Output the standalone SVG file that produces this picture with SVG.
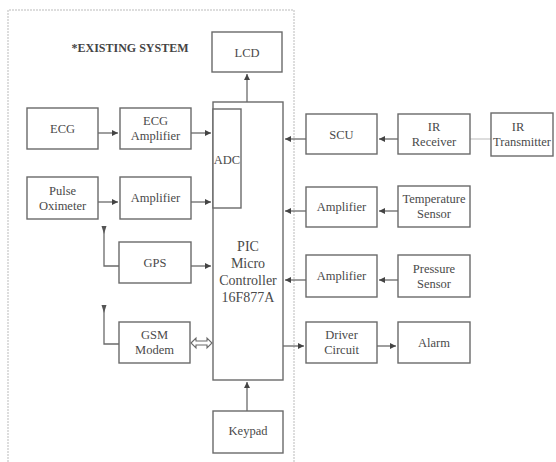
<svg xmlns="http://www.w3.org/2000/svg" width="556" height="462" viewBox="0 0 556 462">
<style>
.box{fill:#fff;stroke:#6a6a6a;stroke-width:1.4}
.t{font-family:"Liberation Serif","Times New Roman",serif;font-size:12.5px;fill:#4a4a4a;text-anchor:middle}
.big{font-size:14px}
.c{stroke:#6a6a6a;stroke-width:1.3;fill:none}
</style>
<defs>
<marker id="ah" markerWidth="8" markerHeight="8" refX="6" refY="3" orient="auto" markerUnits="userSpaceOnUse">
<path d="M0,0 L6,3 L0,6 z" fill="#444"/>
</marker>
</defs>
<rect width="556" height="462" fill="#fff"/>
<g id="border">
<path d="M8,462 V10 H294 V462" fill="none" stroke="#bbb" stroke-width="1" stroke-dasharray="2,1"/>
</g>
<text x="130" y="52" style="font-family:'Liberation Serif','Times New Roman',serif;font-size:12px;font-weight:bold;fill:#444;text-anchor:middle">*EXISTING SYSTEM</text>
<g id="connectors">
<line class="c" x1="247" y1="102" x2="247" y2="74" marker-end="url(#ah)"/>
<line class="c" x1="98" y1="133" x2="118" y2="133" marker-end="url(#ah)"/>
<line class="c" x1="191" y1="133" x2="211" y2="133" marker-end="url(#ah)"/>
<line class="c" x1="98" y1="202" x2="118" y2="202" marker-end="url(#ah)"/>
<line class="c" x1="191" y1="202" x2="211" y2="202" marker-end="url(#ah)"/>
<line class="c" x1="191" y1="266" x2="211" y2="266" marker-end="url(#ah)"/>
<path class="c" d="M104,229 V266 H119"/>
<path d="M101.5,226 L106.5,226 L104,234 z" fill="#555"/>
<path class="c" d="M104,308 V344 H119"/>
<path d="M101.5,305 L106.5,305 L104,313 z" fill="#555"/>
<path d="M191,343 L196,338 V341 H207 V338 L212,343 L207,348 V345 H196 V348 z" fill="#fff" stroke="#6a6a6a" stroke-width="1.1"/>
<line class="c" x1="247" y1="411" x2="247" y2="382" marker-end="url(#ah)"/>
<line class="c" x1="306" y1="139" x2="285" y2="139" marker-end="url(#ah)"/>
<line class="c" x1="398" y1="139" x2="379" y2="139" marker-end="url(#ah)"/>
<line x1="470" y1="139" x2="491" y2="139" stroke="#bbb" stroke-width="1"/>
<line class="c" x1="306" y1="211" x2="285" y2="211" marker-end="url(#ah)"/>
<line class="c" x1="398" y1="211" x2="379" y2="211" marker-end="url(#ah)"/>
<line class="c" x1="306" y1="280" x2="285" y2="280" marker-end="url(#ah)"/>
<line class="c" x1="398" y1="280" x2="379" y2="280" marker-end="url(#ah)"/>
<line class="c" x1="283" y1="346" x2="304" y2="346" marker-end="url(#ah)"/>
<line class="c" x1="377" y1="346" x2="396" y2="346" marker-end="url(#ah)"/>
</g>
<g id="lcd"><rect class="box" x="212" y="32" width="70" height="40"/><text class="t" x="247" y="57">LCD</text></g>
<g id="pic"><rect class="box" x="213" y="102" width="70" height="278"/><text class="t big" x="248" y="251">PIC</text><text class="t big" x="248" y="268">Micro</text><text class="t big" x="248" y="285">Controller</text><text class="t big" x="248" y="302">16F877A</text></g>
<g id="adc"><rect class="box" x="213" y="109" width="28" height="99"/><text class="t" x="227" y="164">ADC</text></g>
<g id="ecg"><rect class="box" x="27" y="108" width="71" height="41"/><text class="t" x="62.5" y="133">ECG</text></g>
<g id="ecgamp"><rect class="box" x="120" y="108" width="71" height="41"/><text class="t" x="155.5" y="125">ECG</text><text class="t" x="155.5" y="140">Amplifier</text></g>
<g id="pulse"><rect class="box" x="27" y="177" width="71" height="42"/><text class="t" x="62.5" y="195">Pulse</text><text class="t" x="62.5" y="210">Oximeter</text></g>
<g id="amp1"><rect class="box" x="120" y="177" width="71" height="42"/><text class="t" x="155.5" y="202">Amplifier</text></g>
<g id="gps"><rect class="box" x="119" y="242" width="72" height="41"/><text class="t" x="155" y="267">GPS</text></g>
<g id="gsm"><rect class="box" x="119" y="322" width="71" height="41"/><text class="t" x="154.5" y="339">GSM</text><text class="t" x="154.5" y="354">Modem</text></g>
<g id="keypad"><rect class="box" x="213" y="411" width="70" height="42"/><text class="t" x="248" y="435">Keypad</text></g>
<g id="scu"><rect class="box" x="306" y="114" width="71" height="40"/><text class="t" x="341.5" y="139">SCU</text></g>
<g id="irrx"><rect class="box" x="398" y="114" width="72" height="40"/><text class="t" x="434" y="131">IR</text><text class="t" x="434" y="146">Receiver</text></g>
<g id="irtx"><rect class="box" x="491" y="113" width="62" height="43"/><text class="t" x="518" y="131">IR</text><text class="t" x="522" y="146">Transmitter</text></g>
<g id="amp2"><rect class="box" x="306" y="187" width="71" height="40"/><text class="t" x="341.5" y="211">Amplifier</text></g>
<g id="temp"><rect class="box" x="398" y="186" width="72" height="41"/><text class="t" x="434" y="203">Temperature</text><text class="t" x="434" y="218">Sensor</text></g>
<g id="amp3"><rect class="box" x="306" y="255" width="71" height="42"/><text class="t" x="341.5" y="280">Amplifier</text></g>
<g id="pressure"><rect class="box" x="398" y="255" width="72" height="42"/><text class="t" x="434" y="273">Pressure</text><text class="t" x="434" y="288">Sensor</text></g>
<g id="driver"><rect class="box" x="306" y="322" width="71" height="41"/><text class="t" x="341.5" y="339">Driver</text><text class="t" x="341.5" y="354">Circuit</text></g>
<g id="alarm"><rect class="box" x="398" y="322" width="72" height="41"/><text class="t" x="434" y="347">Alarm</text></g>
</svg>
